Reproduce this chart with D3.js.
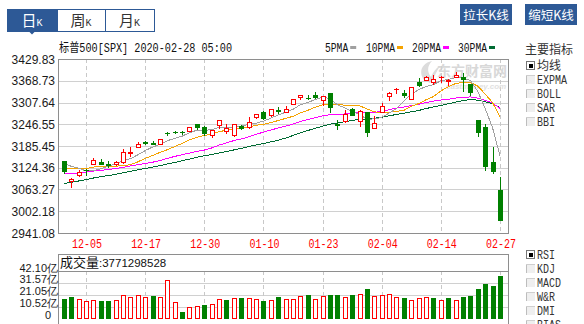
<!DOCTYPE html>
<html><head><meta charset="utf-8">
<script src="https://cdn.jsdelivr.net/npm/d3@7"></script>
<style>body{margin:0;background:#fff;} svg{display:block;}</style>
</head><body><svg id="c" width="584" height="324"></svg>
<script>
// ---------------- DATA ----------------
const dates = ["12-02","12-03","12-04","12-05","12-06","12-09","12-10","12-11","12-12","12-13","12-16","12-17","12-18","12-19","12-20","12-23","12-24","12-26","12-27","12-30","12-31",
"01-02","01-03","01-06","01-07","01-08","01-09","01-10","01-13","01-14","01-15","01-16","01-17","01-21","01-22","01-23","01-24","01-27","01-28","01-29","01-30","01-31",
"02-03","02-04","02-05","02-06","02-07","02-10","02-11","02-12","02-13","02-14","02-18","02-19","02-20","02-21","02-24","02-25","02-26","02-27"];
const opens = [3143.85,3087.41,3103.50,3119.21,3134.62,3141.86,3135.36,3135.75,3141.23,3166.65,3183.63,3195.40,3195.21,3192.32,3223.33,3226.05,3225.45,3227.20,3247.23,3240.09,3215.18,
3244.67,3226.36,3217.55,3241.86,3238.59,3266.03,3280.97,3271.13,3285.35,3282.27,3302.97,3323.66,3321.03,3330.02,3315.77,3333.10,3247.16,3255.35,3289.46,3256.45,3282.33,
3235.66,3280.61,3324.91,3344.92,3335.54,3318.28,3365.87,3370.50,3365.90,3378.08,3369.04,3380.39,3380.45,3360.50,3257.61,3238.94,3139.90,3062.54];
const highs = [3144.31,3094.97,3119.38,3119.45,3150.60,3148.87,3142.12,3143.98,3176.28,3182.68,3197.71,3198.22,3198.48,3205.48,3225.65,3227.78,3226.43,3240.08,3247.93,3240.92,3231.72,
3258.14,3246.15,3246.84,3244.91,3267.07,3275.58,3282.99,3288.13,3294.25,3298.66,3317.11,3329.88,3329.79,3337.77,3326.88,3333.18,3258.85,3285.78,3293.47,3285.91,3282.33,
3268.44,3306.92,3337.58,3347.96,3341.42,3352.26,3375.63,3381.47,3385.09,3380.69,3375.01,3393.52,3389.15,3360.76,3259.81,3246.99,3182.51,3097.07];
const lows = [3110.78,3070.33,3102.53,3103.76,3134.62,3135.46,3126.09,3133.21,3138.47,3156.51,3183.63,3191.03,3191.14,3192.32,3216.03,3222.30,3220.51,3227.20,3234.37,3216.57,3212.03,
3235.53,3222.34,3214.64,3232.43,3236.67,3263.67,3260.86,3268.43,3277.19,3280.69,3302.82,3318.86,3316.61,3320.04,3301.87,3281.53,3234.50,3253.22,3271.89,3242.80,3214.68,
3235.66,3280.61,3313.75,3334.39,3322.12,3317.77,3352.72,3369.72,3360.52,3366.15,3355.61,3378.83,3341.02,3328.45,3214.65,3118.77,3108.99,2977.39];
const closes = [3113.87,3093.20,3112.76,3117.43,3145.91,3135.96,3132.52,3141.63,3168.57,3168.80,3191.45,3192.52,3191.14,3205.37,3221.22,3224.01,3223.38,3239.91,3240.02,3221.29,3230.78,
3257.85,3234.85,3246.28,3237.18,3253.05,3274.70,3265.35,3288.13,3283.15,3289.29,3316.81,3329.62,3320.79,3321.75,3325.54,3295.47,3243.63,3276.24,3273.40,3283.66,3225.52,
3248.92,3297.59,3334.69,3345.78,3327.71,3352.09,3357.75,3379.45,3373.94,3380.16,3370.29,3386.15,3373.23,3337.75,3225.89,3128.21,3116.39,2978.76];
// volume in 亿 (100 million)
const volumes = [17.3,19.1,17.0,15.5,16.4,15.5,15.5,16.4,20.8,19.1,20.8,19.1,20.2,19.1,33.9,14.6,5.8,9.9,11.1,12.0,12.9,
17.0,16.4,17.9,18.2,18.2,17.3,15.5,16.4,19.1,17.0,17.0,19.7,20.8,17.0,19.7,20.8,20.8,18.8,20.8,21.4,26.2,
19.7,20.5,21.4,18.8,18.2,16.1,17.9,18.8,18.2,16.1,18.2,16.1,19.1,20.0,26.2,30.6,28.8,37.71];
// closes before the visible window (2019-10-18 .. 2019-11-29), used by the moving averages
const priorCloses = [2986.20,3006.72,2995.99,3004.52,3010.29,3022.55,3039.42,3036.89,3046.77,3037.56,
3066.91,3078.27,3074.62,3076.78,3085.18,3093.08,3087.01,3091.84,3094.04,3096.63,
3120.46,3122.03,3120.18,3108.46,3103.54,3110.29,3133.64,3140.52,3153.63,3140.98];
const priceTicks = [3429.83,3368.73,3307.64,3246.55,3185.45,3124.36,3063.27,3002.18,2941.08];
const volTicks = [0,10.52,21.05,31.57,42.10];
const volTickLabels = ["0","10.52亿","21.05亿","31.57亿","42.10亿"];
const xLabels = ["12-05","12-17","12-30","01-10","01-23","02-04","02-14","02-27"];
const maNames = ["5PMA","10PMA","20PMA","30PMA"];
const maPeriods = [5,10,20,30];
const mainIndicators = ["均线","EXPMA","BOLL","SAR","BBI"];
const subIndicators = ["RSI","KDJ","MACD","W&R","DMI","BIAS"];
const lastVolumeText = "3771298528";

// ---------------- DERIVED ----------------
const allCloses = priorCloses.concat(closes);
const P = priorCloses.length;
const maSeries = maPeriods.map(n => closes.map((c, i) => d3.mean(allCloses.slice(i + P - n + 1, i + P + 1))));
const maColors = ["#a0a0a0","#f5a300","#ff00ff","#006b33"];

// ---------------- DRAW ----------------
const svg = d3.select("#c");
const CJK = "'Noto Sans CJK SC', sans-serif";
const MONO = "'Liberation Mono', 'Noto Sans CJK SC', monospace";
const SANS = "'Liberation Sans', Arial, sans-serif";
const BLUE = "#2d5996";
const RED = "#ff0000", GREEN = "#008000";

const L = 58, R = 508, T = 59, B = 233;
const VT = 254, VP = 271, VB = 318.5;

const x = d3.scalePoint().domain(dates).range([63.8, 500]);
const y = d3.scaleLinear().domain([2941.08, 3429.83]).range([B, T]);
const yv = d3.scaleLinear().domain([0, 42.10]).range([VB, VP]);

// ---- tabs ----
const tabs = [{t:"日",x:7,w:50},{t:"周",x:57,w:48},{t:"月",x:105,w:49}];
const tg = svg.append("g");
tabs.forEach((d,i) => {
  tg.append("rect").attr("x", d.x+0.5).attr("y", 9.5).attr("width", d.w).attr("height", 22)
    .attr("fill", i===0 ? BLUE : "#fff").attr("stroke", BLUE);
  const t = tg.append("text").attr("x", d.x + d.w/2).attr("y", 26).attr("text-anchor","middle")
    .attr("fill", i===0 ? "#fff" : "#333");
  t.append("tspan").text(d.t).style("font", "15px " + CJK);
  t.append("tspan").text("K").style("font", "10px " + MONO);
});
tg.append("path").attr("d","M29,31.5 L35,31.5 L32,34.5 Z").attr("fill", BLUE);

// ---- buttons ----
[{t:"拉长K线",x:460},{t:"缩短K线",x:525}].forEach(d => {
  svg.append("rect").attr("x", d.x).attr("y", 4).attr("width", 52).attr("height", 21).attr("fill", BLUE);
  svg.append("text").attr("x", d.x+26).attr("y", 19.5).attr("text-anchor","middle").attr("fill","#fff")
    .style("font","12.5px " + CJK).text(d.t);
});

// ---- header ----
svg.append("text").attr("x", 59).attr("y", 52).attr("fill","#111")
  .attr("textLength", 173).attr("lengthAdjust","spacingAndGlyphs")
  .style("font", "12.5px " + MONO).text("标普500[SPX] 2020-02-28 05:00");
const legX = [325, 366, 412, 458];
maNames.forEach((n, i) => {
  svg.append("text").attr("x", legX[i]).attr("y", 52).attr("fill","#111")
    .attr("textLength", n.length*5.8).attr("lengthAdjust","spacingAndGlyphs")
    .style("font", "12px " + MONO).text(n);
  svg.append("rect").attr("x", legX[i] + n.length*5.8 + 2).attr("y", 46).attr("width", 6).attr("height", 3)
    .attr("fill", maColors[i]);
});

// ---- main panel ----
const main = svg.append("g");
main.selectAll(".hg").data(priceTicks.slice(1, -1)).join("line")
  .attr("x1", L).attr("x2", R).attr("y1", d => Math.round(y(d))+0.5).attr("y2", d => Math.round(y(d))+0.5)
  .attr("stroke", "#d0d0d0");
main.selectAll(".vg").data(xLabels).join("line")
  .attr("x1", d => Math.round(x(d))+0.5).attr("x2", d => Math.round(x(d))+0.5)
  .attr("y1", T).attr("y2", B).attr("stroke","#c8c8c8").attr("stroke-dasharray","4,3");

// watermark
const wm = main.append("g").attr("opacity", 0.85);
wm.append("path").attr("d","M424,80 C418,72 422,63 432,61 C427,66 427,72 431,77 C433,72 436,68 440,66 C436,72 434,78 430,83 Z")
  .attr("fill","#d6d6d6");
wm.append("text").attr("x", 437).attr("y", 76).attr("fill","#d2d2d2").style("font","bold 14px " + CJK)
  .attr("textLength", 70).attr("lengthAdjust","spacingAndGlyphs").text("东方财富网");
wm.append("text").attr("x", 446).attr("y", 89).attr("fill","#dcdcdc").style("font","italic bold 8px " + SANS)
  .text("eastmoney.com");

main.selectAll(".yl").data(priceTicks).join("text")
  .attr("x", 55).attr("y", d => y(d) + 4.5).attr("text-anchor","end").attr("fill","#1a1a1a")
  .style("font","12px " + SANS).text(d => d.toFixed(2));
main.selectAll(".xl").data(xLabels).join("text")
  .attr("x", d => x(d)+1).attr("y", 248).attr("text-anchor","middle").attr("fill", RED)
  .attr("textLength", 30).attr("lengthAdjust","spacingAndGlyphs")
  .style("font","12px " + MONO).text(d => d);

// MA lines
const line = d3.line().x((d,i) => x(dates[i])).y(d => y(d));
maSeries.slice().reverse().forEach((s, k) => {
  const i = maSeries.length - 1 - k;
  main.append("path").attr("d", line(s)).attr("fill","none").attr("stroke", maColors[i]).attr("stroke-width", 1)
    .attr("shape-rendering","crispEdges");
});

// candles
const cg = main.append("g").attr("shape-rendering","crispEdges");
dates.forEach((dt, i) => {
  const cx = Math.round(x(dt));
  const o = opens[i], c = closes[i], up = c >= o;
  const col = up ? RED : GREEN;
  const yH = Math.round(y(highs[i])), yL = Math.round(y(lows[i]));
  const yO = Math.round(y(o)), yC = Math.round(y(c));
  const top = Math.min(yO, yC), bot = Math.max(yO, yC);
  cg.append("line").attr("x1", cx+0.5).attr("x2", cx+0.5).attr("y1", yH).attr("y2", yL+1).attr("stroke", col);
  if (bot - top < 1) {
    cg.append("rect").attr("x", cx-2).attr("y", top).attr("width", 5).attr("height", 1).attr("fill", col);
  } else if (up) {
    cg.append("rect").attr("x", cx-1.5).attr("y", top+0.5).attr("width", 4).attr("height", bot-top)
      .attr("fill","#fff").attr("stroke", col);
  } else {
    cg.append("rect").attr("x", cx-2).attr("y", top).attr("width", 5).attr("height", bot-top+1).attr("fill", col);
  }
});

main.append("rect").attr("x", L+0.5).attr("y", T+0.5).attr("width", R-L).attr("height", B-T)
  .attr("fill","none").attr("stroke","#8e8e8e");

// ---- volume panel ----
const vg = svg.append("g");
vg.selectAll(".vh").data(volTicks.slice(1, -1)).join("line")
  .attr("x1", L).attr("x2", R).attr("y1", d => Math.round(yv(d))+0.5).attr("y2", d => Math.round(yv(d))+0.5)
  .attr("stroke","#d0d0d0");
vg.selectAll(".vv").data(xLabels).join("line")
  .attr("x1", d => Math.round(x(d))+0.5).attr("x2", d => Math.round(x(d))+0.5)
  .attr("y1", VP).attr("y2", VB).attr("stroke","#c8c8c8").attr("stroke-dasharray","4,3");
const bg = vg.append("g").attr("shape-rendering","crispEdges");
dates.forEach((dt, i) => {
  const cx = Math.round(x(dt));
  const prev = i === 0 ? priorCloses[P-1] : closes[i-1];
  const up = closes[i] >= prev;
  const yt = Math.round(yv(volumes[i]));
  const yb = Math.round(yv(0));
  if (up) {
    bg.append("rect").attr("x", cx-1.5).attr("y", yt+0.5).attr("width", 4).attr("height", yb-yt-1)
      .attr("fill","#fff").attr("stroke", RED);
  } else {
    bg.append("rect").attr("x", cx-2).attr("y", yt).attr("width", 5).attr("height", yb-yt).attr("fill", GREEN);
  }
});
vg.append("rect").attr("x", L+0.5).attr("y", VT+0.5).attr("width", R-L).attr("height", 70)
  .attr("fill","none").attr("stroke","#8e8e8e");
vg.append("line").attr("x1", L).attr("x2", R).attr("y1", VP+0.5).attr("y2", VP+0.5).attr("stroke","#8e8e8e");
const vt = vg.append("text").attr("x", 60).attr("y", 267).attr("fill","#111");
vt.append("tspan").style("font","13px " + CJK).text("成交量");
vt.append("tspan").style("font","11.5px " + SANS).text(":" + lastVolumeText);
vg.selectAll(".vl").data(volTicks).join("text")
  .attr("x", (d,i) => i === 0 ? 51 : 58).attr("y", d => yv(d) + 0.5).attr("text-anchor","end").attr("fill","#1a1a1a")
  .style("font","11px " + SANS).text((d,i) => volTickLabels[i]);

// ---- right indicator panel ----
svg.append("text").attr("x", 525).attr("y", 54).attr("fill","#333").style("font","12px " + CJK).text("主要指标");
function checkbox(yc, label, checked) {
  const g = svg.append("g").attr("shape-rendering","crispEdges");
  g.append("rect").attr("x", 526).attr("y", yc-4.5).attr("width", 9).attr("height", 9).attr("fill","#efefef");
  g.append("rect").attr("x", 526).attr("y", yc-4.5).attr("width", 1).attr("height", 9).attr("fill","#bdbdbd");
  g.append("rect").attr("x", 526).attr("y", yc-4.5).attr("width", 9).attr("height", 1).attr("fill","#cfcfcf");
  if (checked) {
    g.append("rect").attr("x", 526.5).attr("y", yc-4).attr("width", 8).attr("height", 8).attr("fill","#fff").attr("stroke","#777");
    g.append("rect").attr("x", 529).attr("y", yc-1.5).attr("width", 4).attr("height", 4).attr("fill","#000");
  }
  const isCJK = /[\u4e00-\u9fff]/.test(label);
  const t = svg.append("text").attr("x", 537).attr("y", yc+4.5).attr("fill","#333").text(label);
  if (isCJK) t.style("font","12px " + CJK);
  else t.style("font","12px " + MONO).attr("textLength", label.length*6).attr("lengthAdjust","spacingAndGlyphs");
}
mainIndicators.forEach((n, i) => checkbox(65 + i*14.2, n, i === 0));
subIndicators.forEach((n, i) => checkbox(254.5 + i*14, n, i === 0));
</script></body></html>
